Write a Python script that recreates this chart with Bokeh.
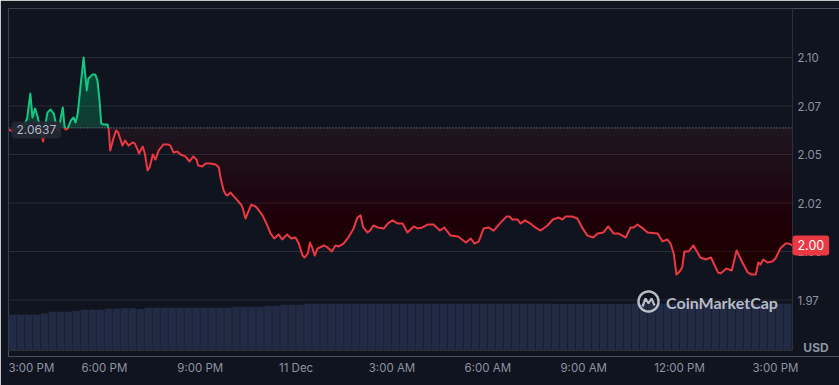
import numpy as np
from bokeh.plotting import figure
from bokeh.models import Range1d, FixedTicker, Label, PolyAnnotation
from bokeh.embed import file_html
from bokeh.resources import INLINE
from bokeh.core.properties import value

# ---------------- data ----------------
open_price = 2.0637

# minutes after 3:00 PM, 10 Dec
minutes = [0, 7, 15, 22, 30, 35, 41, 45, 50, 54, 58, 62, 65, 69, 73, 79, 85, 91, 94, 98,
           102, 105, 107, 111, 117, 122, 126, 130, 135, 141, 147, 150, 158, 163, 167, 171, 174, 178, 186, 188,
           191, 197, 202, 206, 214, 219, 225, 233, 237, 243, 245, 252, 256, 261, 265, 271, 276, 282, 291, 299,
           304, 310, 317, 323, 332, 340, 347, 353, 356, 364, 370, 379, 389, 395, 398, 404, 408, 411, 417, 423,
           430, 438, 441, 445, 451, 456, 464, 469, 477, 486, 492, 499, 507, 514, 523, 531, 539, 545, 552, 556,
           562, 566, 571, 575, 580, 592, 599, 607, 614, 620, 629, 638, 648, 655, 661, 666, 674, 679, 685, 693,
           705, 712, 721, 731, 740, 749, 761, 768, 777, 787, 798, 810, 818, 830, 844, 849, 859, 868, 875, 883,
           892, 901, 911, 924, 935, 941, 946, 956, 961, 970, 980, 989, 999, 1012, 1022, 1033, 1040, 1046, 1059, 1068,
           1078, 1087, 1098, 1106, 1117, 1126, 1136, 1145, 1159, 1168, 1174, 1181, 1191, 1200, 1219, 1228, 1237, 1243, 1249, 1254,
           1260, 1265, 1269, 1277, 1286, 1299, 1309, 1319, 1332, 1337, 1348, 1358, 1367, 1378, 1388, 1395, 1403, 1408, 1412, 1417,
           1425, 1434, 1440, 1449, 1459, 1465, 1472]

prices = [2.0629, 2.0619, 2.0634, 2.0644, 2.0655, 2.0686, 2.0814, 2.0691, 2.0737, 2.0701, 2.0655, 2.0603, 2.0567, 2.0649, 2.0716, 2.0732, 2.0711, 2.0634, 2.0624, 2.0686,
          2.0742, 2.0649, 2.0629, 2.0634, 2.0675, 2.0691, 2.0665, 2.0711, 2.0845, 2.1000, 2.0830, 2.0892, 2.0912, 2.0912, 2.0881, 2.0778, 2.0660, 2.0655, 2.0655, 2.0634,
          2.0521, 2.0582, 2.0624, 2.0613, 2.0546, 2.0572, 2.0546, 2.0562, 2.0557, 2.0521, 2.0505, 2.0541, 2.0505, 2.0418, 2.0433, 2.0500, 2.0474, 2.0521, 2.0552, 2.0552,
          2.0546, 2.0510, 2.0515, 2.0500, 2.0490, 2.0464, 2.0490, 2.0474, 2.0443, 2.0438, 2.0454, 2.0454, 2.0448, 2.0433, 2.0381, 2.0314, 2.0294, 2.0289, 2.0304, 2.0284,
          2.0263, 2.0237, 2.0211, 2.0170, 2.0211, 2.0242, 2.0232, 2.0216, 2.0186, 2.0134, 2.0093, 2.0067, 2.0088, 2.0062, 2.0088, 2.0067, 2.0072, 2.0041, 1.9979, 1.9969,
          1.9990, 2.0046, 2.0015, 1.9979, 2.0015, 2.0031, 2.0021, 2.0000, 2.0031, 2.0026, 2.0041, 2.0072, 2.0119, 2.0175, 2.0186, 2.0124, 2.0098, 2.0108, 2.0134, 2.0124,
          2.0119, 2.0144, 2.0160, 2.0144, 2.0144, 2.0098, 2.0129, 2.0119, 2.0124, 2.0139, 2.0139, 2.0108, 2.0124, 2.0082, 2.0077, 2.0067, 2.0046, 2.0067, 2.0041, 2.0052,
          2.0119, 2.0124, 2.0108, 2.0149, 2.0180, 2.0180, 2.0165, 2.0165, 2.0144, 2.0160, 2.0144, 2.0124, 2.0108, 2.0134, 2.0165, 2.0175, 2.0165, 2.0180, 2.0180, 2.0170,
          2.0119, 2.0082, 2.0072, 2.0093, 2.0098, 2.0129, 2.0093, 2.0093, 2.0072, 2.0124, 2.0124, 2.0139, 2.0119, 2.0098, 2.0093, 2.0052, 2.0062, 2.0041, 1.9990, 1.9881,
          1.9897, 1.9918, 2.0000, 2.0000, 2.0031, 1.9969, 1.9959, 1.9969, 1.9892, 1.9887, 1.9912, 1.9902, 2.0005, 1.9943, 1.9892, 1.9881, 1.9881, 1.9943, 1.9933, 1.9959,
          1.9943, 1.9948, 1.9964, 2.0015, 2.0041, 2.0041, 2.0031]

# volume bars: one per 15 minutes (relative units, estimated)
vol_step = 15
volumes = [360, 360, 360, 360, 370, 387, 387, 387, 397, 407, 407, 407, 417, 417, 423, 423, 415, 427, 427, 427,
           427, 427, 427, 427, 427, 427, 427, 427, 437, 437, 437, 437, 447, 447, 457, 457, 457, 467, 467, 467,
           467, 467, 467, 467, 467, 467, 467, 467, 467, 467, 467, 467, 467, 467, 467, 467, 467, 467, 467, 467,
           467, 467, 467, 467, 467, 467, 467, 467, 465, 465, 465, 465, 465, 465, 465, 465, 465, 466, 467, 467,
           467, 467, 467, 467, 467, 467, 467, 467, 467, 467, 467, 467, 467, 467, 467, 467, 467, 467, 467]

x_tick_minutes = [0, 180, 360, 540, 720, 900, 1080, 1260, 1440]
x_tick_labels = ["3:00 PM", "6:00 PM", "9:00 PM", "11 Dec", "3:00 AM", "6:00 AM", "9:00 AM", "12:00 PM", "3:00 PM"]
y_ticks = [1.975, 2.0, 2.025, 2.05, 2.075, 2.1]
y_tick_labels = ["1.97", "2.00", "2.02", "2.05", "2.07", "2.10"]
unit_label = "USD"
brand = "CoinMarketCap"

# ---------------- layout & style ----------------
BG = "#10141e"
GRID = "#272b36"
RED = "#ea3943"
GREEN = "#16c784"
LABEL = "#8c93a3"
FONT = "Inter"

W, H = 839, 385
PAD_L, PAD_T, PAD_B = 8, 8, 29          # frame: x 8..839, y 8..356
plot_w_px = 784                          # price area width (x 8..792)
plot_h_px = 342                          # price area height (y 8..350)
px_per_price = 1940.0                    # vertical scale of the price axis
x_start, x_data_end = 0, 1472
px_per_min = plot_w_px / (x_data_end - x_start)
frame_w = W - PAD_L
frame_h = H - PAD_T - PAD_B
x_end = x_start + frame_w / px_per_min
y_hi = 2.125258
y_plot_lo = y_hi - plot_h_px / px_per_price
y_lo = y_hi - frame_h / px_per_price
vol_per_px = 10.0
vol_lo = -(frame_h - plot_h_px) * vol_per_px
vol_hi = vol_lo + frame_h * vol_per_px

p = figure(width=W, height=H, output_backend="svg", toolbar_location=None,
           x_range=Range1d(x_start, x_end), y_range=Range1d(y_lo, y_hi),
           y_axis_location=None,
           min_border_left=PAD_L, min_border_top=PAD_T, min_border_right=0, min_border_bottom=PAD_B,
           background_fill_color=BG, border_fill_color=BG, outline_line_color=None)
p.extra_y_ranges = {"vol": Range1d(vol_lo, vol_hi)}
p.xgrid.grid_line_color = None
p.ygrid.grid_line_color = None

# horizontal grid lines (price area only)
p.segment(x0=[x_start] * len(y_ticks), x1=[x_data_end] * len(y_ticks), y0=y_ticks, y1=y_ticks,
          line_color=GRID, line_width=1)

# volume
lefts = [x_start + vol_step * k for k in range(len(volumes))]
rights = [min(l + vol_step * 0.96, x_data_end) for l in lefts]
p.quad(left=lefts, right=rights, bottom=0, top=volumes, y_range_name="vol",
       fill_color="#232a44", line_color=None)

# price series with baseline crossings inserted
t = np.array(minutes, dtype=float)
pr = np.array(prices, dtype=float)
ta, pa = [t[0]], [pr[0]]
for i in range(1, len(t)):
    d0, d1 = pr[i - 1] - open_price, pr[i] - open_price
    if d0 * d1 < 0:
        f = d0 / (d0 - d1)
        ta.append(t[i - 1] + f * (t[i] - t[i - 1]))
        pa.append(open_price)
    ta.append(t[i])
    pa.append(pr[i])
ta = np.array(ta)
pa = np.array(pa)

dstep = 0.002
# red gradient fill (below baseline)
below = np.minimum(pa, open_price)
def red_target(d):
    return min(0.065 + 0.10 * d / 0.045, 0.26)
prev = 0.0
for k in range(60):
    lvl = open_price - k * dstep
    tgt = red_target(k * dstep)
    a = 1 - (1 - tgt) / (1 - prev)
    prev = tgt
    y2 = np.maximum(np.minimum(lvl, open_price), below)
    if np.all(y2 - below <= 0):
        break
    p.varea(x=ta, y1=below, y2=y2, fill_color=RED, fill_alpha=a)

# green gradient fill (above baseline)
above = np.maximum(pa, open_price)
def green_target(h):
    return min(0.22 + 0.1 * h / 0.036, 0.34)
prev = 0.0
for k in range(60):
    lvl = open_price + k * dstep
    tgt = green_target(k * dstep)
    a = 1 - (1 - tgt) / (1 - prev)
    prev = tgt
    y1 = np.minimum(np.maximum(lvl, open_price), above)
    if np.all(above - y1 <= 0):
        break
    p.varea(x=ta, y1=y1, y2=above, fill_color=GREEN, fill_alpha=a)

# opening-price baseline (dotted)
p.segment(x0=[x_start], x1=[x_data_end], y0=[open_price], y1=[open_price],
          line_color="#a3a8b4", line_dash="1 2", line_width=1, line_alpha=0.9)

green_y = np.where(pa >= open_price, pa, np.nan)
red_y = np.where(pa <= open_price, pa, np.nan)
p.line(ta, red_y, line_color=RED, line_width=2, line_join="round")
p.line(ta, green_y, line_color=GREEN, line_width=2, line_join="round")

# price-area border
p.quad(left=[x_start], right=[x_data_end], bottom=[y_plot_lo], top=[y_hi],
       fill_color=None, line_color="#2c303b", line_width=1)

# x axis (real axis below the frame)
half_label_px = 23
x_ticks = [int(round(max(m, x_start + half_label_px / px_per_min))) for m in x_tick_minutes]
xa = p.xaxis[0]
xa.ticker = FixedTicker(ticks=x_ticks)
xa.major_label_overrides = {tk: lab for tk, lab in zip(x_ticks, x_tick_labels)}
xa.axis_line_color = None
xa.major_tick_line_color = None
xa.minor_tick_line_color = None
xa.major_tick_out = 0
xa.major_tick_in = 0
xa.minor_tick_out = 0
xa.minor_tick_in = 0
xa.major_label_text_font = FONT
xa.major_label_text_font_size = "11.5px"
xa.major_label_text_color = LABEL
xa.major_label_standoff = 4

# y tick labels (right of the price area)
p.text(x=[x_data_end] * len(y_ticks), y=y_ticks, text=y_tick_labels, x_offset=5,
       text_align="left", text_baseline="middle", text_font=value(FONT),
       text_font_size="11.5px", text_color=LABEL)

# unit label
p.add_layout(Label(x=x_data_end, y=y_plot_lo, text=unit_label, x_offset=23.5, y_offset=3,
                   text_align="center", text_baseline="middle", text_font=FONT, text_font_size="12px",
                   text_font_style="bold", text_color="#8c93a3"))

# badges
p.add_layout(Label(x=x_start, y=open_price, text=f"{open_price:.4f}", x_offset=3, y_offset=-2,
                   text_align="left", text_baseline="middle", text_font=FONT, text_font_size="12px",
                   text_color="#b4bac6", background_fill_color="#242833", background_fill_alpha=0.92,
                   border_radius=4, padding=(5, 4)))
p.add_layout(Label(x=x_data_end, y=prices[-1], text=f"{prices[-1]:.2f}", x_offset=0,
                   text_align="left", text_baseline="middle", text_font=FONT, text_font_size="12.5px",
                   text_color="#ffffff", background_fill_color=RED, border_radius=3, padding=(5, 5)))

# watermark
p.add_layout(Label(x=713.5, y=54, x_units="screen", y_units="screen", text=brand,
                   text_align="center", text_baseline="middle", text_font="Lato", text_font_size="16px",
                   text_font_style="bold", text_color="#d5d9e1", text_alpha=0.85))
cx, cy, r = 640, 55, 10
ang = np.linspace(0, 2 * np.pi, 40)
p.add_layout(PolyAnnotation(xs=list(cx + r * np.cos(ang)), ys=list(cy + r * np.sin(ang)),
                            xs_units="screen", ys_units="screen", fill_alpha=0,
                            line_color="#d5d9e1", line_alpha=0.85, line_width=2.5))
wx = [-6, -3, 0, 3, 6]
wy = [-5, 3, -2, 3, -4]
p.add_layout(PolyAnnotation(xs=[cx + v for v in wx + wx[::-1]], ys=[cy + v for v in wy + wy[::-1]],
                            xs_units="screen", ys_units="screen", fill_alpha=0,
                            line_color="#d5d9e1", line_alpha=0.85, line_width=2.2))

open("out.html", "w").write(file_html(p, INLINE))
